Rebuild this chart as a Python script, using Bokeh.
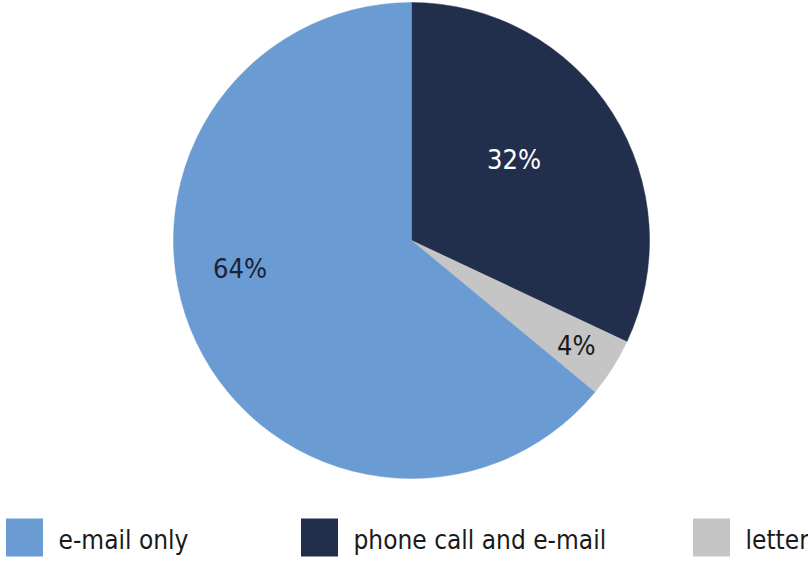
from math import pi, cos, sin, radians
from bokeh.plotting import figure
from bokeh.models import Range1d
from bokeh.core.properties import value
from bokeh.embed import file_html
from bokeh.resources import INLINE

# ---- data ----
categories = ["e-mail only", "phone call and e-mail", "letter"]
shares = [64, 32, 4]
labels = ["64%", "32%", "4%"]
colors = ["#6b9bd3", "#222f4c", "#c5c5c5"]
label_colors = ["#1a2233", "#ffffff", "#1a1a1a"]
# order in which slices are drawn clockwise from 12 o'clock
pie_order = [1, 2, 0]

# ---- layout ----
W, H = 808, 563
cx, cy_img, R = 411, 240, 238
cy = H - cy_img
label_r = {0: 0.73, 1: 0.55, 2: 0.82}
label_nudge = {0: -16, 1: 6, 2: 0}
FONT = "DejaVu Sans Condensed, Lato"

p = figure(width=W, height=H, output_backend="svg", toolbar_location=None,
           x_range=Range1d(0, W), y_range=Range1d(0, H),
           min_border=0, outline_line_color=None)
p.axis.visible = False
p.grid.visible = False
p.background_fill_color = "white"
p.border_fill_color = "white"

total = float(sum(shares))
start = pi / 2
lx, ly, lt, lc = [], [], [], []
for i in pie_order:
    sweep = shares[i] / total * 2 * pi
    end = start - sweep
    p.wedge(x=[cx], y=[cy], radius=R, start_angle=[end], end_angle=[start],
            fill_color=colors[i], line_color=colors[i], line_width=0.5)
    mid = (start + end) / 2 + radians(label_nudge[i])
    lx.append(cx + label_r[i] * R * cos(mid))
    ly.append(cy + label_r[i] * R * sin(mid))
    lt.append(labels[i])
    lc.append(label_colors[i])
    start = end

p.text(x=lx, y=ly, text=lt, text_color=lc, text_font=value(FONT),
       text_font_size="27px", text_align="center", text_baseline="middle")

# legend drawn manually
leg_x = [24, 319, 711]
leg_y = H - 537
p.rect(x=leg_x, y=[leg_y] * 3, width=37, height=38, fill_color=colors,
       line_color=None)
p.text(x=[x + 34 for x in leg_x], y=[leg_y - 2] * 3, text=categories,
       text_color="#1a1a1a", text_font=value(FONT),
       text_font_size="26px", text_align="left", text_baseline="middle")

open("out.html", "w").write(file_html(p, INLINE))
